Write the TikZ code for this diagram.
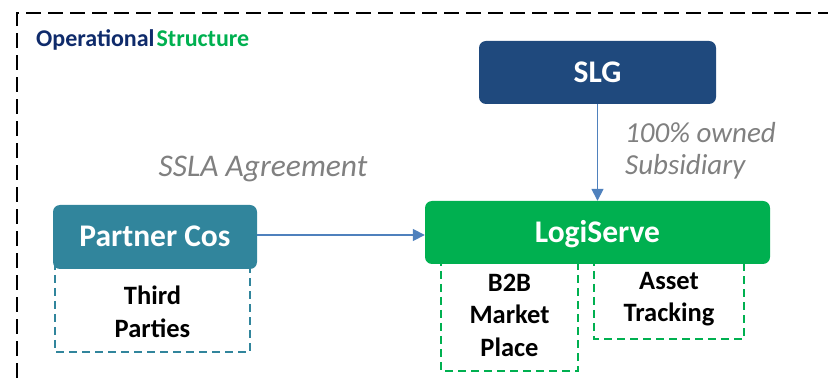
\documentclass[tikz,border=0pt]{standalone}
\usepackage{fontspec}
\setmainfont{Carlito}
\usetikzlibrary{arrows.meta}
\definecolor{slgblue}{HTML}{1F497D}
\definecolor{logigreen}{HTML}{00B050}
\definecolor{partnerteal}{HTML}{31859C}
\definecolor{linkblue}{HTML}{4F81BD}
\definecolor{titlenavy}{HTML}{0F2B6B}
\definecolor{notegray}{HTML}{808080}
\tikzset{
  entity/.style={rounded corners=7pt, draw=none, text=white, font=\bfseries\fontsize{31.5}{36}\selectfont,
    inner sep=0pt, text height=20pt, text depth=0pt},
  subbox/.style={dashed, line width=1.5pt, dash pattern=on 8pt off 5pt},
  subtext/.style={font=\bfseries\fontsize{26.5}{32.5}\selectfont, align=center, text=black},
  note/.style={font=\itshape\fontsize{29}{32}\selectfont, text=notegray},
  link/.style={draw=linkblue, line width=1.6pt, -{Triangle[length=12pt,width=12pt]}}
}
\begin{document}
\begin{tikzpicture}[x=1pt,y=-1pt]
\useasboundingbox (0,0) rectangle (828,379);
% outer dashed frame
\draw[line width=2.6pt, dash pattern=on 15pt off 7pt] (17,400) -- (17,13) -- (850,13);
% title
\node[anchor=west, inner sep=0pt, font=\bfseries\fontsize{24}{28}\selectfont] (title) at (36,40)
  {\textcolor{titlenavy}{Operational}\hspace{2pt}\textcolor{logigreen}{Structure}};
% dashed sub-boxes (drawn first, entity boxes cover their top edges)
\draw[subbox, draw=partnerteal] (55,262) rectangle (250,352);
\node[subtext] (third) at (152.5,312) {Third\\Parties};
\draw[subbox, draw=logigreen] (441,258) rectangle (578,371);
\node[subtext] (b2b) at (509.5,315) {B2B\\Market\\Place};
\draw[subbox, draw=logigreen] (594,258) rectangle (744,339);
\node[subtext] (asset) at (669,299) {Asset\\Tracking};
% entity boxes
\node[entity, fill=slgblue, minimum width=237pt, minimum height=63pt] (slg) at (597.5,72.5) {SLG};
\node[entity, fill=logigreen, minimum width=345pt, minimum height=63pt] (logi) at (597.5,232.5) {LogiServe};
\node[entity, fill=partnerteal, minimum width=204pt, minimum height=64pt] (partner) at (155,237) {Partner Cos};
% connectors
\draw[link] (slg.south) -- (logi.north);
\draw[link] (partner.east |- 0,235) -- (logi.west |- 0,235);
% annotations
\node[note, anchor=base, inner sep=0pt, font=\itshape\fontsize{31.5}{36}\selectfont] (ssla) at (263,177) {SSLA Agreement};
\node[note, anchor=base west, inner sep=0pt] (owned) at (625,143) {100\% owned};
\node[note, anchor=base west, inner sep=0pt] (subsid) at (625,175) {Subsidiary};
\end{tikzpicture}
\end{document}
